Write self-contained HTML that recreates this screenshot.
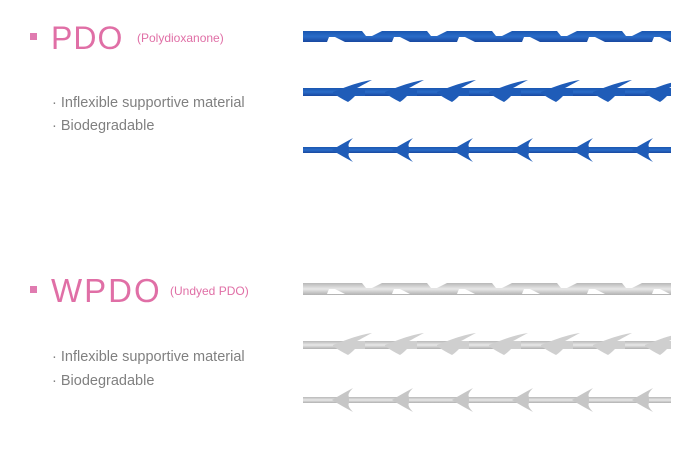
<!DOCTYPE html>
<html><head><style>
body{margin:0;width:700px;height:444px;background:#fff;overflow:hidden;font-family:"Liberation Sans",sans-serif;}
</style></head><body>
<svg width="700" height="444" viewBox="0 0 700 444" xmlns="http://www.w3.org/2000/svg">
<defs>
<linearGradient id="bl" x1="0" y1="0" x2="0" y2="1"><stop offset="0" stop-color="#1a56b0"/><stop offset="0.5" stop-color="#2a6cc8"/><stop offset="1" stop-color="#1848a0"/></linearGradient>
<linearGradient id="gr" x1="0" y1="0" x2="0" y2="1"><stop offset="0" stop-color="#b8b8b8"/><stop offset="0.5" stop-color="#e8e8e8"/><stop offset="1" stop-color="#b0b0b0"/></linearGradient>
<clipPath id="cl"><rect x="303" y="0" width="368" height="444"/></clipPath>
<polygon id="nt" points="2,0 22,0 12,5 6,5" fill="#fff"/>
<polygon id="nb" points="0,11 18,11 8,6 2,6" fill="#fff"/>
<path id="b2" d="M0,2 C10,-2 25,-8 39,-10 C33,-7 28,-4 24,-2 L32,-2 L32,6 L22,6 C20,8 18,10 15,12 C9,9 4,6 0,3 Z"/>
<path id="b3" d="M0,0 Q8,-5 21,-12 Q15,-6 17,-3 L17,3 Q15,6 21,12 Q8,5 0,0 Z"/>
</defs>

<rect x="30" y="33" width="7" height="7" fill="#e07bb0"/>
<text x="51" y="49" font-size="32" fill="#e06fa6" style="letter-spacing:1px">PDO</text>
<text x="137" y="42" font-size="12" fill="#e06fa6">(Polydioxanone)</text>
<text x="52" y="107" font-size="14.5" fill="#808080">· Inflexible supportive material</text>
<text x="52" y="130" font-size="14.5" fill="#808080">· Biodegradable</text>

<rect x="30" y="286" width="7" height="7" fill="#e07bb0"/>
<text x="51" y="302" font-size="33" fill="#e06fa6" style="letter-spacing:2px">WPDO</text>
<text x="170" y="295" font-size="12" fill="#e06fa6">(Undyed PDO)</text>
<text x="52" y="361" font-size="14.5" fill="#808080">· Inflexible supportive material</text>
<text x="52" y="385" font-size="14.5" fill="#808080">· Biodegradable</text>

<g clip-path="url(#cl)">
 <rect x="303" y="31" width="368" height="11" fill="url(#bl)"/>
 <g transform="translate(0,31)">
  <use href="#nt" x="360"/><use href="#nt" x="425"/><use href="#nt" x="490"/><use href="#nt" x="555"/><use href="#nt" x="620"/>
  <use href="#nb" x="327"/><use href="#nb" x="392"/><use href="#nb" x="457"/><use href="#nb" x="522"/><use href="#nb" x="587"/><use href="#nb" x="652"/>
 </g>
 <rect x="303" y="88" width="368" height="8" fill="url(#bl)"/>
 <g fill="#1f5cb8" transform="translate(0,90)">
  <use href="#b2" x="333"/><use href="#b2" x="385"/><use href="#b2" x="437"/><use href="#b2" x="489"/><use href="#b2" x="541"/><use href="#b2" x="593"/><use href="#b2" x="645"/>
 </g>
 <rect x="303" y="147" width="368" height="6" fill="url(#bl)"/>
 <g fill="#1f5cb8" transform="translate(0,150)">
  <use href="#b3" x="332"/><use href="#b3" x="392"/><use href="#b3" x="452"/><use href="#b3" x="512"/><use href="#b3" x="572"/><use href="#b3" x="632"/>
 </g>

 <rect x="303" y="283" width="368" height="12" fill="url(#gr)"/>
 <g transform="translate(0,283)">
  <use href="#nt" x="360"/><use href="#nt" x="425"/><use href="#nt" x="490"/><use href="#nt" x="555"/><use href="#nt" x="620"/>
  <use href="#nb" x="327"/><use href="#nb" x="392"/><use href="#nb" x="457"/><use href="#nb" x="522"/><use href="#nb" x="587"/><use href="#nb" x="652"/>
 </g>
 <rect x="303" y="341" width="368" height="8" fill="url(#gr)"/>
 <g fill="#cfcfcf" transform="translate(0,343)">
  <use href="#b2" x="333"/><use href="#b2" x="385"/><use href="#b2" x="437"/><use href="#b2" x="489"/><use href="#b2" x="541"/><use href="#b2" x="593"/><use href="#b2" x="645"/>
 </g>
 <rect x="303" y="397" width="368" height="6" fill="url(#gr)"/>
 <g fill="#c6c6c6" transform="translate(0,400)">
  <use href="#b3" x="332"/><use href="#b3" x="392"/><use href="#b3" x="452"/><use href="#b3" x="512"/><use href="#b3" x="572"/><use href="#b3" x="632"/>
 </g>
</g>
</svg>
</body></html>
